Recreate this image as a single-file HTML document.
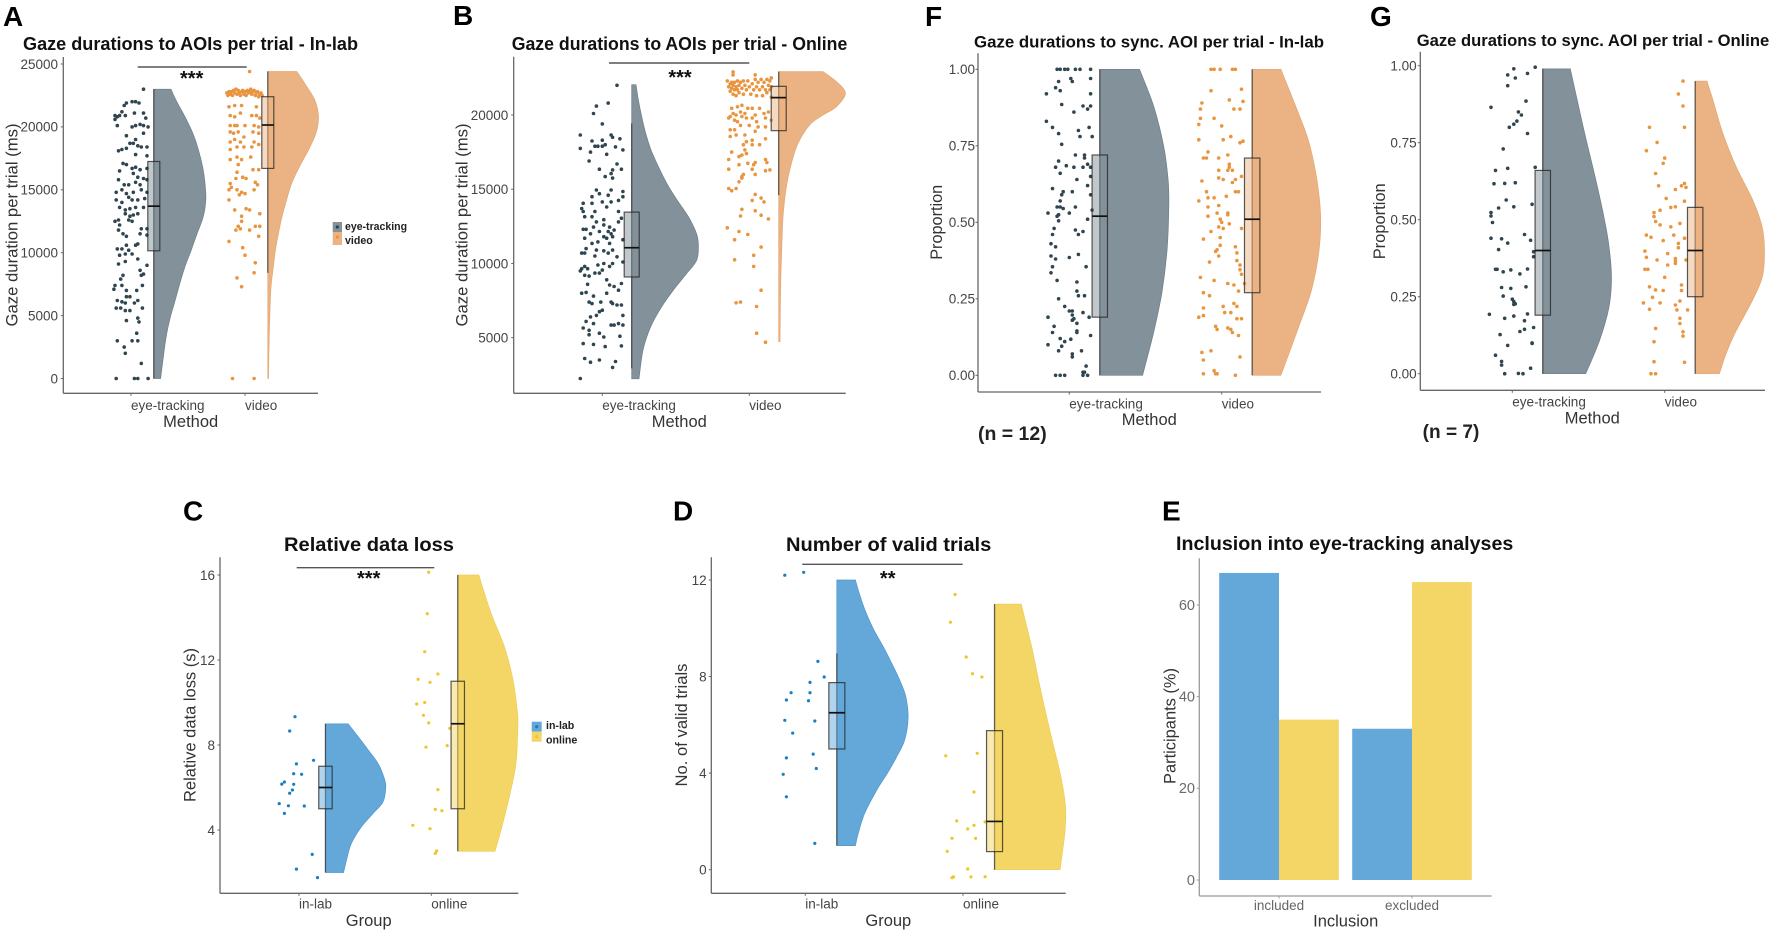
<!DOCTYPE html>
<html lang="en">
<head>
<meta charset="utf-8">
<title>Gaze duration raincloud figure</title>
<style>
html,body{margin:0;padding:0;background:#fff;}
svg{display:block;filter:blur(0.3px);}
text{font-family:"Liberation Sans",sans-serif;}
.letter{font-size:28px;font-weight:700;fill:#000;}
.title{font-weight:700;fill:#111;}
.ytitle,.xtitle{font-size:16.5px;fill:#333;}
.stars{font-size:20px;font-weight:700;fill:#111;text-anchor:middle;}
.legend{font-size:11px;font-weight:700;fill:#222;}
.nlabel{font-size:19px;font-weight:700;fill:#222;}
</style>
</head>
<body>
<svg id="figure" xmlns="http://www.w3.org/2000/svg" width="1772" height="934" viewBox="0 0 1772 934">
<rect width="1772" height="934" fill="#fff"/>

<g id="panel-a">
<text class="letter" x="3" y="26">A</text>
<text class="title" x="23" y="50" font-size="18" textLength="335" lengthAdjust="spacingAndGlyphs">Gaze durations to AOIs per trial - In-lab</text>
<text class="ytitle" transform="translate(17.3 225) rotate(-90)" text-anchor="middle" textLength="203" lengthAdjust="spacingAndGlyphs">Gaze duration per trial (ms)</text>
<text class="xtitle" x="190.7" y="427" text-anchor="middle">Method</text>
<line x1="137.7" x2="246.7" y1="67" y2="67" stroke="#555" stroke-width="1.4"/>
<text class="stars" x="191.7" y="85">***</text>
<rect x="332.7" y="222" width="9.3" height="10" fill="#82919a"/>
<circle cx="337.3" cy="227" r="1.6" fill="#2f4550"/>
<rect x="332.7" y="232" width="9.3" height="13" fill="#ebb383"/>
<circle cx="337.3" cy="237" r="1.6" fill="#e9953f"/>
<text class="legend" x="345" y="230" textLength="62" lengthAdjust="spacingAndGlyphs">eye-tracking</text>
<text class="legend" x="345" y="244" textLength="27.7" lengthAdjust="spacingAndGlyphs">video</text>
</g>

<g id="panel-b">
<text class="letter" x="453" y="25">B</text>
<text class="title" x="511.7" y="50" font-size="18" textLength="335.6" lengthAdjust="spacingAndGlyphs">Gaze durations to AOIs per trial - Online</text>
<text class="ytitle" transform="translate(467.3 225) rotate(-90)" text-anchor="middle" textLength="203" lengthAdjust="spacingAndGlyphs">Gaze duration per trial (ms)</text>
<text class="xtitle" x="679.3" y="427" text-anchor="middle">Method</text>
<line x1="609" x2="749.3" y1="63" y2="63" stroke="#555" stroke-width="1.4"/>
<text class="stars" x="680" y="84">***</text>
</g>

<g id="panel-f">
<text class="letter" x="925" y="26">F</text>
<text class="title" x="974" y="47.7" font-size="17" textLength="350" lengthAdjust="spacingAndGlyphs">Gaze durations to sync. AOI per trial - In-lab</text>
<text class="ytitle" transform="translate(942 222.3) rotate(-90)" text-anchor="middle" textLength="75" lengthAdjust="spacingAndGlyphs">Proportion</text>
<text class="xtitle" x="1149.3" y="425" text-anchor="middle">Method</text>
<text class="nlabel" x="978" y="440" textLength="68.7" lengthAdjust="spacingAndGlyphs">(n = 12)</text>
</g>

<g id="panel-g">
<text class="letter" x="1370" y="26">G</text>
<text class="title" x="1416.7" y="46" font-size="17" textLength="352.6" lengthAdjust="spacingAndGlyphs">Gaze durations to sync. AOI per trial - Online</text>
<text class="ytitle" transform="translate(1385 221.3) rotate(-90)" text-anchor="middle" textLength="76" lengthAdjust="spacingAndGlyphs">Proportion</text>
<text class="xtitle" x="1592.3" y="423.3" text-anchor="middle">Method</text>
<text class="nlabel" x="1422.7" y="438" textLength="56.6" lengthAdjust="spacingAndGlyphs">(n = 7)</text>
</g>

<g id="panel-c">
<text class="letter" x="183" y="520.7">C</text>
<text class="title" x="284" y="551" font-size="19" textLength="170" lengthAdjust="spacingAndGlyphs">Relative data loss</text>
<text class="ytitle" transform="translate(195.7 725) rotate(-90)" text-anchor="middle" textLength="154" lengthAdjust="spacingAndGlyphs">Relative data loss (s)</text>
<text class="xtitle" x="368.7" y="926" text-anchor="middle">Group</text>
<line x1="296.7" x2="434.3" y1="567.7" y2="567.7" stroke="#555" stroke-width="1.4"/>
<text class="stars" x="368.7" y="585">***</text>
<rect x="531.7" y="721.7" width="10" height="10" fill="#64a8da"/>
<circle cx="536.7" cy="726.7" r="1.6" fill="#1a7fc0"/>
<rect x="531.7" y="731.7" width="10" height="10" fill="#f3d665"/>
<circle cx="536.7" cy="736.7" r="1.6" fill="#f0c52a"/>
<text class="legend" x="546" y="729" textLength="28.3" lengthAdjust="spacingAndGlyphs">in-lab</text>
<text class="legend" x="546" y="743.3" textLength="31.3" lengthAdjust="spacingAndGlyphs">online</text>
</g>

<g id="panel-d">
<text class="letter" x="673" y="520.7">D</text>
<text class="title" x="786" y="551" font-size="19" textLength="205.3" lengthAdjust="spacingAndGlyphs">Number of valid trials</text>
<text class="ytitle" transform="translate(687 725) rotate(-90)" text-anchor="middle" textLength="123" lengthAdjust="spacingAndGlyphs">No. of valid trials</text>
<text class="xtitle" x="888.3" y="926" text-anchor="middle">Group</text>
<line x1="802.3" x2="962.7" y1="564.3" y2="564.3" stroke="#555" stroke-width="1.4"/>
<text class="stars" x="887.7" y="585">**</text>
</g>

<g id="panel-e">
<text class="letter" x="1162" y="520.7">E</text>
<text class="title" x="1176" y="550" font-size="19" textLength="337.3" lengthAdjust="spacingAndGlyphs">Inclusion into eye-tracking analyses</text>
<text class="ytitle" transform="translate(1175.3 726) rotate(-90)" text-anchor="middle" textLength="116" lengthAdjust="spacingAndGlyphs">Participants (%)</text>
<text class="xtitle" x="1345.7" y="926.7" text-anchor="middle">Inclusion</text>
</g>
</svg>

<script>
// ---------- Shared categories ----------
const methodCategories = ["eye-tracking", "video"];
const groupCategories = ["in-lab", "online"];

// ---------- Panel A ----------
const aYTicks = ["0", "5000", "10000", "15000", "20000", "25000"];
const aEyeValues = [23000,21900,21700,22000,22000,21900,21200,20900,21100,20900,20800,20900,20600,20100,21100,20700,20100,20000,20200,20100,20000,19300,19000,19500,18700,18700,18500,18400,18400,18100,18200,18300,17700,17800,17100,17000,16700,16800,16600,16700,16500,16300,16000,15900,15800,15400,15400,15600,15400,15800,14800,15000,14700,14800,15000,14800,14200,14000,14400,14200,14200,14300,13600,13400,13500,13600,13600,12500,12600,13100,12900,13000,13100,12200,12500,12600,11900,11900,11800,11500,11300,11500,11400,10300,10300,10600,10200,10600,10700,9800,9900,9900,9500,9100,9300,9000,8600,8300,8200,8200,7900,7400,7100,7400,7000,7400,7000,6500,6500,6200,6100,6000,6000,6200,5600,5600,5400,5400,5600,4600,4800,4500,3000,3000,3600,3000,2500,2000,1200,0,0,0,0];
const aEyeJitter = [.11,-.04,-.06,.01,.04,.07,-.08,-.05,.03,-.14,-.12,-.10,-.14,-.12,.11,.13,.11,.15,.08,.04,.01,-.04,.04,.11,-.01,.02,.06,.09,.14,-.11,-.08,-.04,.14,.04,-.07,-.04,.01,.04,.08,.14,-.10,.02,.06,.11,-.11,-.06,-.02,.04,.08,.14,-.13,-.08,-.04,.02,.09,.14,-.13,-.08,-.02,.01,.06,.12,-.10,-.05,-.01,.04,.11,-.14,-.11,-.05,-.01,.02,.06,-.10,.01,-.02,.09,.14,-.11,-.07,-.04,.08,.14,-.12,-.08,-.04,-.02,.04,.06,-.10,-.05,.01,.06,-.11,-.05,.14,.08,.11,.09,-.07,-.09,-.14,-.15,-.08,-.04,.10,.05,-.04,-.01,-.12,-.08,-.05,.03,.06,-.13,-.09,-.05,-.01,.10,-.04,.06,.07,-.12,.01,.05,.06,-.06,-.05,.09,-.13,.03,.06,.15];
const aEyeDensityAt = [23000,22100,20800,19500,18150,16800,15500,14200,12850,11500,10200,8900,7550,6200,4900,3600,2250,0];
const aEyeDensity = [.33,.43,.60,.75,.86,.94,.985,1,.95,.83,.72,.60,.50,.41,.32,.25,.20,.13];
const aEyeBox = [0,10150,13700,17250,23000];
const aVideoValues = [24400,22700,22500,22800,22600,22800,22500,22900,22700,23000,22600,22900,22700,22500,22800,22900,22600,22800,22500,22900,22700,22800,23000,22600,22800,22900,22500,22700,22800,22400,22600,22700,22500,21600,21700,21700,21600,20900,20800,21100,20900,20900,20700,20100,20100,20100,20100,20100,20000,19600,19500,19600,19600,19500,18800,19000,18800,19200,18800,18600,18200,18400,18400,18400,17400,17600,17400,17600,17000,16400,16600,16600,15900,16000,15900,15500,15600,15400,15200,15000,15000,15000,14800,14700,14600,14200,13400,13500,13400,13100,12900,12500,12100,11800,11900,11800,12100,12100,10900,11300,10400,9800,9200,8400,8000,7300,0,0];
const aVideoJitter = [.04,-.16,-.15,-.14,-.13,-.12,-.11,-.10,-.09,-.08,-.07,-.06,-.05,-.04,-.03,-.02,-.01,0,.01,.02,.03,.04,.05,.06,.07,.08,.09,.10,.11,.12,.13,.14,.15,-.14,-.09,-.03,.10,-.13,-.09,-.04,.06,.10,.13,-.13,-.09,-.07,0,.08,.12,-.13,-.10,-.06,.07,.12,-.13,-.09,-.04,-.01,.08,.12,-.13,-.07,-.01,.06,-.13,-.07,-.03,.05,-.06,-.07,.07,.12,-.08,-.02,.01,-.13,.09,.11,-.12,-.07,.08,-.14,-.03,0,-.05,-.14,-.09,.01,.04,.13,-.03,-.03,-.06,-.08,-.04,.04,.09,.13,-.14,.12,-.02,0,.09,.08,-.07,-.03,-.11,.08];
const aVideoDensityAt = [24400,23450,22100,20800,19500,18150,16800,15500,14200,12850,11500,10200,8900,7550,6200,3600,0];
const aVideoDensity = [.57,.73,.93,1,.95,.80,.62,.47,.37,.28,.21,.15,.11,.07,.05,.03,.013];
const aVideoBox = [8400,16700,20150,22400,24400];

// ---------- Panel B ----------
const bYTicks = ["5000", "10000", "15000", "20000"];
const bEyeValues = [22000,20800,20600,20100,19400,18650,18250,18300,18650,18500,18400,17900,17900,17900,18000,17750,17500,17850,17650,17350,16900,16700,16350,16300,16350,16050,15850,15750,14950,14950,14850,14700,14600,14500,14500,14250,14050,14050,13700,14150,13800,14150,13500,13500,13150,13500,13150,12950,12800,13050,12800,12300,12300,12450,12600,12450,12250,12000,12150,12150,12000,11700,11800,11700,11800,11450,11350,11600,11350,11000,10900,10850,10900,10700,10700,10500,10700,10450,10100,9900,10000,10000,9800,9650,9650,9500,9550,9800,9350,9350,9200,9150,8900,8550,8650,8600,8450,8200,8000,8050,8000,7800,7400,7300,7400,7400,7300,7200,7200,6850,6750,6500,6400,6500,6100,5950,5850,5850,5950,5850,5650,5500,5300,5050,5100,5200,4600,4550,4400,4450,3600,3350,3500,3400,3000,2250];
const bEyeJitter = [.10,.04,-.04,-.06,0,-.15,-.07,0,.06,.07,.12,-.05,-.03,0,.02,-.15,-.08,.09,.14,.03,-.09,.10,-.02,.07,.13,.06,.02,.07,-.04,.06,.14,-.02,.04,-.07,.14,.11,-.13,-.07,-.14,0,.03,.06,-.13,.11,-.12,-.05,-.07,.01,-.04,.13,.11,-.13,-.11,-.06,.01,.05,.08,-.08,-.02,.04,.06,-.12,.01,.03,.07,-.03,.05,.14,-.07,-.11,-.04,.01,.07,-.14,-.12,-.05,.04,.10,.14,-.03,.01,.07,-.12,-.14,-.10,-.15,0,.05,-.05,-.02,-.12,-.09,.03,.05,.13,-.10,.08,.11,-.14,-.11,.03,-.06,-.09,-.07,-.01,.06,.07,.10,.13,0,-.02,.14,-.08,-.04,-.11,-.06,.06,.08,.11,.14,-.13,-.09,-.02,.01,.12,-.09,-.13,-.06,.02,.13,-.12,-.08,-.02,.09,.07,-.15];
const bEyeDensityAt = [22040,21010,19890,18760,17640,16520,15400,14270,13150,12030,11240,10230,9330,8210,7090,5740,4170,2230];
const bEyeDensity = [.065,.10,.15,.21,.29,.40,.525,.68,.85,.97,1,.975,.825,.625,.45,.285,.17,.11];
const bEyeBox = [2930,9090,11060,13460,19440];
const bVideoValues = [22900,22700,22700,22300,21900,22100,21600,22200,21800,22000,21400,22200,21700,21900,21300,22300,21700,22000,21500,22200,21800,22300,21400,22000,21700,22300,21900,21400,22100,21700,22400,21900,21300,22200,21700,22400,21900,21300,22200,21700,22400,21500,22000,22300,21700,22500,21200,21900,20450,20550,20650,20450,19900,20100,20000,20200,20100,20450,20450,20200,19800,19650,19550,19900,19800,19800,19550,20000,19800,19650,20100,19000,19000,19300,19300,19200,19200,18550,18650,18650,18900,18400,18200,18300,18000,18000,18000,17650,17500,17300,17200,17400,17000,17000,16800,16800,16750,16650,16650,16350,16300,16250,16350,16000,15850,16000,15750,15500,15050,15050,14900,14650,14250,14400,14150,13650,13550,13200,13250,13000,12400,12150,11950,11600,11100,10550,10250,9800,8200,7350,7400,7100,5300,4700];
const bVideoJitter = [-.11,-.11,.04,-.15,-.14,-.13,-.13,-.12,-.12,-.11,-.11,-.10,-.10,-.09,-.09,-.08,-.08,-.07,-.07,-.06,-.05,-.04,-.04,-.03,-.02,-.01,0,.01,.02,.03,.04,.05,.05,.06,.07,.08,.09,.09,.10,.11,.12,.12,.13,.14,.14,.15,.15,.15,-.12,-.08,-.05,-.01,-.13,-.11,-.09,-.06,-.03,.02,.07,.13,-.14,-.10,-.08,-.05,-.02,.02,.05,.04,.11,.15,.10,-.10,-.13,-.06,0,.06,.11,-.13,-.09,-.03,.04,.11,-.02,.02,-.04,.02,.07,-.03,-.12,-.05,-.07,-.02,-.14,.11,.12,.04,-.01,.03,-.07,-.14,.14,.11,.02,-.04,-.05,.04,-.05,-.07,-.09,-.14,-.12,.04,.02,.08,.10,-.05,.04,-.06,.08,.13,-.15,-.07,-.01,-.10,.08,.03,-.10,.03,.08,-.09,-.06,.05,.05,.11];
const bVideoDensityAt = [22920,22250,21460,20560,20000,19330,18090,16740,15170,13150,10900,8660,4730];
const bVideoDensity = [.665,.865,1,.865,.665,.465,.29,.19,.115,.065,.045,.03,.02];
const bVideoBox = [14600,18945,21170,21930,22920];

// ---------- Panel F ----------
const fYTicks = ["0.00", "0.25", "0.50", "0.75", "1.00"];
const fEyeValues = [1,1,1,1,1,1,1,.97,.96,.96,.97,.94,.93,.92,.92,.885,.88,.87,.88,.86,.83,.81,.81,.80,.79,.78,.78,.755,.72,.72,.70,.68,.71,.685,.68,.68,.69,.68,.66,.65,.64,.62,.61,.60,.60,.59,.57,.59,.55,.55,.545,.55,.54,.53,.53,.52,.525,.51,.505,.48,.475,.47,.46,.46,.43,.42,.395,.385,.39,.38,.355,.355,.335,.31,.305,.275,.26,.26,.25,.225,.21,.21,.205,.19,.197,.185,.19,.18,.17,.16,.14,.145,.14,.13,.10,.12,.118,.11,.095,.08,.08,.07,.06,.03,.01,0,0,0,.01,0,0];
const fEyeJitter = [-.08,-.06,-.03,-.01,.04,.07,.14,.01,.02,-.07,.14,-.09,-.06,.14,-.15,-.05,.09,.12,.14,.03,-.15,-.11,.13,.06,-.07,.07,.15,-.05,.04,.10,-.07,-.09,.10,-.02,.03,.09,.12,.14,-.06,.14,.05,.12,-.11,-.04,.02,.14,-.06,-.05,-.08,-.06,-.04,.04,.15,0,-.14,-.08,-.07,.12,-.07,-.10,.04,.09,.06,-.11,-.12,-.09,.06,0,-.12,-.09,.11,-.11,-.12,-.08,.05,.05,.06,.10,-.07,-.03,0,.02,.09,-.14,.02,.03,.13,.02,.05,-.10,-.11,.05,.05,.14,-.14,-.06,.01,-.03,-.05,-.07,.08,.02,.02,.11,.09,-.09,-.06,-.03,.10,.09,.12];
const fEyeDensityAt = [1,.88,.75,.64,.55,.41,.27,.14,0];
const fEyeDensity = [.575,.78,.925,.99,1,.975,.90,.78,.62];
const fEyeBox = [0,.19,.52,.72,1];
const fVideoValues = [1,1,1,1,1,.935,.93,.90,.895,.89,.87,.87,.87,.84,.84,.82,.815,.78,.77,.77,.76,.765,.73,.71,.71,.71,.72,.69,.65,.67,.67,.67,.68,.645,.64,.63,.64,.635,.60,.60,.60,.57,.58,.58,.585,.55,.555,.53,.53,.52,.525,.51,.50,.495,.485,.48,.48,.47,.445,.45,.425,.42,.41,.405,.40,.39,.375,.37,.36,.345,.32,.33,.31,.30,.295,.30,.275,.27,.26,.235,.225,.225,.22,.205,.205,.19,.195,.185,.185,.16,.15,.155,.15,.14,.13,.08,.075,.05,.06,.015,.005,.005,.005,0];
const fVideoJitter = [-.07,-.05,-.01,.07,.09,.13,-.07,.05,.14,-.13,-.14,.12,.08,-.14,-.05,-.15,0,.06,.01,-.15,.12,.14,-.09,-.12,-.10,-.02,.04,.05,.13,-.02,.04,.07,.05,-.02,.01,.07,.09,-.13,-.10,.09,.11,-.15,-.09,-.05,.03,-.09,-.02,-.03,.04,-.09,.04,-.01,0,.05,-.02,.01,.13,-.07,-.12,-.01,-.01,.09,-.03,-.04,.10,-.02,.10,-.08,.12,.12,-.14,.13,-.05,.04,.08,.15,.11,-.12,-.08,.08,.10,.01,-.12,.02,.06,-.15,-.12,.10,.13,-.04,-.03,.04,.06,.07,.11,-.07,-.13,-.12,.12,-.05,-.04,-.03,-.12,.09];
const fVideoDensityAt = [1,.889,.77,.65,.53,.41,.28,.17,0];
const fVideoDensity = [.42,.62,.82,.94,1,.98,.87,.70,.42];
const fVideoBox = [0,.27,.51,.71,1];

// ---------- Panel G ----------
const gYTicks = ["0.00", "0.25", "0.50", "0.75", "1.00"];
const gEyeValues = [.995,.99,.975,.97,.96,.935,.885,.865,.85,.84,.82,.81,.80,.78,.73,.67,.66,.667,.617,.618,.62,.564,.55,.542,.538,.523,.512,.491,.452,.44,.438,.433,.424,.403,.396,.38,.34,.339,.339,.331,.337,.324,.28,.277,.282,.252,.242,.234,.227,.225,.193,.194,.187,.18,.172,.15,.144,.137,.127,.10,.098,.092,.06,.04,.028,.018,.001,0,0];
const gEyeJitter = [.15,.01,.10,-.03,.02,-.03,.09,-.14,.04,.06,.03,.01,-.02,.10,-.06,.15,-.11,-.03,-.12,-.05,.02,-.04,.13,.01,-.09,-.14,-.14,-.13,.08,-.14,-.07,.12,-.03,-.09,.14,.14,.10,-.11,-.10,-.06,-.01,.05,-.07,-.01,.09,-.06,0,.01,.02,.01,-.15,.10,.01,-.05,.08,.14,.08,.05,-.08,.13,.13,-.03,-.11,-.07,-.07,.12,.04,.07,-.05];
const gEyeDensityAt = [.99,.89,.78,.65,.52,.42,.315,.218,.11,0];
const gEyeDensity = [.40,.50,.61,.75,.88,.96,1,.965,.83,.625];
const gEyeBox = [0,.19,.40,.66,.99];
const gVideoValues = [.95,.908,.869,.80,.80,.751,.724,.70,.683,.65,.61,.618,.61,.605,.598,.569,.56,.54,.542,.531,.523,.51,.494,.483,.488,.477,.45,.45,.443,.44,.432,.423,.409,.398,.39,.378,.374,.366,.369,.369,.353,.358,.339,.339,.313,.288,.282,.27,.272,.27,.248,.236,.23,.23,.223,.207,.209,.207,.18,.163,.147,.136,.122,.104,.037,.039,0,0];
const gVideoJitter = [.12,.09,.12,-.10,.13,-.05,-.12,0,-.01,-.06,-.04,.13,.11,.14,.07,.01,.13,.04,.07,-.03,-.07,-.07,-.06,-.03,.10,.04,.06,-.12,-.09,.13,-.01,.09,.09,-.13,.02,-.12,.07,.07,-.05,.14,.02,.07,-.13,-.11,0,.11,-.10,.11,-.06,-.01,-.08,.10,-.14,-.03,.07,.08,-.10,.15,.10,.10,-.06,.12,.12,-.07,.13,-.07,-.09,-.06];
const gVideoDensityAt = [.95,.889,.78,.672,.564,.477,.40,.315,.24,.13,.066,0];
const gVideoDensity = [.17,.255,.40,.59,.83,.966,1,.97,.83,.57,.447,.35];
const gVideoBox = [0,.25,.40,.54,.95];

// ---------- Panel C ----------
const cYTicks = ["4", "8", "12", "16"];
const cLabValues = [9.33,8.66,7.28,7.11,6.65,6.62,6.26,6.16,6.15,5.88,5.73,5.24,5.14,5.13,4.78,2.85,2.16,1.76];
const cLabJitter = [-.03,-.07,.11,-.02,-.04,.02,-.11,-.13,-.04,-.05,-.07,-.15,-.08,.04,-.11,.10,-.02,.14];
const cLabDensityAt = [9,8.4,7.76,7.14,6.5,6.04,5.33,4.78,4.16,3.37,2.6,2];
const cLabDensity = [.376,.54,.71,.87,.967,1,.956,.79,.60,.43,.35,.30];
const cLabBox = [2,5,6,7,9];
const cOnlineValues = [16.13,14.18,12.39,11.34,11.09,10.95,10.0,9.93,9.4,9.04,8.78,7.97,7.9,5.9,4.97,4.91,4.22,4.06,3.01,2.9];
const cOnlineJitter = [-.02,-.03,-.05,.05,-.10,-.01,-.05,-.11,-.06,-.02,.14,.12,-.04,.05,.03,.08,-.14,-.01,.04,.03];
const cOnlineDensityAt = [16,14.2,12.6,11.06,9.5,8.8,7.14,5.57,4,3];
const cOnlineDensity = [.35,.555,.78,.92,.995,1,.97,.86,.72,.62];
const cOnlineBox = [3,5,9,11,16];

// ---------- Panel D ----------
const dYTicks = ["0", "4", "8", "12"];
const dLabValues = [12.2,12.32,8.63,7.98,7.76,7.33,7.33,7.03,7.0,6.19,6.16,5.66,4.79,4.63,4.19,3.95,3.02,1.09];
const dLabJitter = [-.13,-.01,.08,.12,.03,-.09,.03,-.12,.02,-.13,.06,-.08,.05,-.12,.07,-.14,-.12,.06];
const dLabDensityAt = [12,11.3,10.6,9.93,9.24,8.55,7.86,7.17,6.27,5.37,4.68,4,3.3,2.33,1.5,1];
const dLabDensity = [.26,.33,.416,.52,.65,.77,.88,.967,1,.95,.84,.71,.56,.39,.30,.26];
const dLabBox = [1,5,6.5,7.75,8.96];
const dOnlineValues = [11.4,10.25,8.81,8.12,7.98,4.72,4.82,3.22,1.98,2.02,1.84,1.69,1.3,1.3,.76,.03,-.33,-.3,-.3,-.29];
const dOnlineJitter = [-.05,-.08,.02,.06,.12,-.11,.09,.07,.14,-.04,.07,.03,-.07,.08,-.10,.03,-.07,-.06,.05,.14];
const dOnlineDensityAt = [11,9.24,7.86,6.48,5.1,4,3.02,2.33,1.5,.68,0];
const dOnlineDensity = [.374,.52,.617,.72,.83,.92,.98,1,.985,.95,.92];
const dOnlineBox = [0,.75,2,5.76,11];

// ---------- Panel E ----------
const eCategories = ["included", "excluded"];
const eYTicks = ["0", "20", "40", "60"];
const eInLab = [67, 33];
const eOnline = [35, 65];

// ---------- Drawing ----------
const NS = "http://www.w3.org/2000/svg";
const GREY = "#82919a", ORANGE = "#ebb383", BLUE = "#64a8da", YELLOW = "#f3d665";
const DOT_DARK = "#2f4550", DOT_ORANGE = "#e9953f", DOT_BLUE = "#1a7fc0", DOT_YELLOW = "#f0c52a";

function make(parent, tag, attrs, txt) {
  const el = document.createElementNS(NS, tag);
  for (const k in attrs) el.setAttribute(k, attrs[k]);
  if (txt !== undefined) el.textContent = txt;
  parent.appendChild(el);
  return el;
}

function linearScale(v0, p0, v1, p1) {
  return function (v) { return p0 + (v - v0) * (p1 - p0) / (v1 - v0); };
}

function smoothPath(pts) {
  let d = "";
  for (let i = 0; i < pts.length - 1; i++) {
    const p0 = pts[Math.max(i - 1, 0)], p1 = pts[i], p2 = pts[i + 1], p3 = pts[Math.min(i + 2, pts.length - 1)];
    const c1x = p1[0] + (p2[0] - p0[0]) / 6, c1y = p1[1] + (p2[1] - p0[1]) / 6;
    const c2x = p2[0] - (p3[0] - p1[0]) / 6, c2y = p2[1] - (p3[1] - p1[1]) / 6;
    d += " C" + c1x.toFixed(1) + " " + c1y.toFixed(1) + " " + c2x.toFixed(1) + " " + c2y.toFixed(1) + " " + p2[0].toFixed(1) + " " + p2[1].toFixed(1);
  }
  return d;
}

function drawAxes(g, cfg, y) {
  const tickColor = cfg.tickColor || "#444";
  const axisColor = cfg.axisColor || "#666";
  const yAxis = make(g, "line", {x1: cfg.left, x2: cfg.left, y1: cfg.top, y2: cfg.bottom, stroke: axisColor, "stroke-width": 1.3});
  
  
  const xAxis = make(g, "line", {x1: cfg.left, x2: cfg.right, y1: cfg.bottom, y2: cfg.bottom, stroke: axisColor, "stroke-width": 1.3});
  
  
  cfg.yTicks.forEach(function (label) {
    const py = y(Number(label));
    const mark = make(g, "line", {x1: cfg.left - 2.5, x2: cfg.left, y1: py, y2: py, stroke: axisColor, "stroke-width": 1});
    
    
    const t = make(g, "text", {x: cfg.tickRight, y: py + 4.8, "text-anchor": "end", "font-size": cfg.tickSize || 13.5, fill: tickColor}, label);
    
    
  });
}

function drawSeries(g, cfg, s, i, y) {
  const spacing = cfg.catX[1] - cfg.catX[0];
  const cat = cfg.catX[i];
  const base = cat + spacing * 0.2;

  const edge = s.densityAt.map(function (v, k) { return [base + s.density[k] * s.peak, y(v)]; });
  let d = "M" + base.toFixed(1) + " " + edge[0][1].toFixed(1) + " L" + edge[0][0].toFixed(1) + " " + edge[0][1].toFixed(1);
  d += smoothPath(edge);
  d += " L" + base.toFixed(1) + " " + edge[edge.length - 1][1].toFixed(1) + " Z";
  const violin = make(g, "path", {d: d, fill: s.color, stroke: s.edge, "stroke-width": 0.7});
  
  

  const n = Math.min(s.values.length, s.jitter.length);
  for (let k = 0; k < n; k++) {
    const dot = make(g, "circle", {cx: (cat + s.jitter[k] * spacing).toFixed(1), cy: y(s.values[k]).toFixed(1), r: cfg.dotR || 1.8, fill: s.dot});
    
    
  }

  const stats = s.box;
  const whisker = make(g, "line", {x1: base, x2: base, y1: y(stats[0]), y2: y(stats[4]), stroke: "#333", "stroke-opacity": 0.75, "stroke-width": 1.3});
  
  
  const hw = cfg.boxHalf;
  const box = make(g, "rect", {x: base - hw, y: y(stats[3]), width: 2 * hw, height: y(stats[1]) - y(stats[3]), fill: s.color, "fill-opacity": 0.5, stroke: "#222", "stroke-opacity": 0.75, "stroke-width": 1.2});
  
  
  const median = make(g, "line", {x1: base - hw, x2: base + hw, y1: y(stats[2]), y2: y(stats[2]), stroke: "#111", "stroke-width": 1.7});
  
  

  const tick = make(g, "line", {x1: cat, x2: cat, y1: cfg.bottom, y2: cfg.bottom + 2.5, stroke: "#666", "stroke-width": 1});
  
  
  const label = make(g, "text", {x: cat, y: cfg.labelY, "font-size": 13.5, fill: "#444"}, cfg.categories[i]);
  
  
}

function drawRaincloud(cfg) {
  const g = document.getElementById(cfg.id);
  const y = linearScale(cfg.yRef[0], cfg.yRef[1], cfg.yRef[2], cfg.yRef[3]);
  drawAxes(g, cfg, y);
  cfg.series.forEach(function (s, i) { drawSeries(g, cfg, s, i, y); });
}

function eyeSeries(values, jitter, densityAt, density, box, peak) {
  return {name: "eye-tracking", color: GREY, edge: "#6f7f88", dot: DOT_DARK, values: values, jitter: jitter, densityAt: densityAt, density: density, box: box, peak: peak};
}
function videoSeries(values, jitter, densityAt, density, box, peak) {
  return {name: "video", color: ORANGE, edge: "#e3a873", dot: DOT_ORANGE, values: values, jitter: jitter, densityAt: densityAt, density: density, box: box, peak: peak};
}
function labSeries(values, jitter, densityAt, density, box, peak) {
  return {name: "in-lab", color: BLUE, edge: "#4f97cd", dot: DOT_BLUE, values: values, jitter: jitter, densityAt: densityAt, density: density, box: box, peak: peak};
}
function onlineSeries(values, jitter, densityAt, density, box, peak) {
  return {name: "online", color: YELLOW, edge: "#ecce5a", dot: DOT_YELLOW, values: values, jitter: jitter, densityAt: densityAt, density: density, box: box, peak: peak};
}

drawRaincloud({id: "panel-a", left: 63.3, right: 318, top: 57, bottom: 393.3, tickRight: 58, labelY: 410, boxHalf: 6,
  yRef: [0, 378.5, 25000, 64], yTicks: aYTicks, catX: [131, 245], categories: methodCategories,
  series: [eyeSeries(aEyeValues, aEyeJitter, aEyeDensityAt, aEyeDensity, aEyeBox, 52), videoSeries(aVideoValues, aVideoJitter, aVideoDensityAt, aVideoDensity, aVideoBox, 50.7)]});

drawRaincloud({id: "panel-b", left: 513.7, right: 845.7, top: 56.7, bottom: 393.3, tickRight: 508.3, labelY: 410, boxHalf: 7.5,
  yRef: [5000, 337.7, 20000, 115], yTicks: bYTicks, catX: [602.3, 749.3], categories: methodCategories,
  series: [eyeSeries(bEyeValues, bEyeJitter, bEyeDensityAt, bEyeDensity, bEyeBox, 66.7), videoSeries(bVideoValues, bVideoJitter, bVideoDensityAt, bVideoDensity, bVideoBox, 66.7)]});

drawRaincloud({id: "panel-f", left: 978, right: 1321, top: 53.3, bottom: 392, tickRight: 975, labelY: 408.5, boxHalf: 7.7,
  yRef: [0, 375.3, 1, 69.3], yTicks: fYTicks, catX: [1069.3, 1221.7], categories: methodCategories,
  series: [eyeSeries(fEyeValues, fEyeJitter, fEyeDensityAt, fEyeDensity, fEyeBox, 69), videoSeries(fVideoValues, fVideoJitter, fVideoDensityAt, fVideoDensity, fVideoBox, 68.3)]});

drawRaincloud({id: "panel-g", left: 1420.3, right: 1765, top: 51.7, bottom: 390.3, tickRight: 1416.7, labelY: 406.7, boxHalf: 7.7,
  yRef: [0, 373.7, 1, 65.7], yTicks: gYTicks, catX: [1512.3, 1664.7], categories: methodCategories,
  series: [eyeSeries(gEyeValues, gEyeJitter, gEyeDensityAt, gEyeDensity, gEyeBox, 68.7), videoSeries(gVideoValues, gVideoJitter, gVideoDensityAt, gVideoDensity, gVideoBox, 69.3)]});

drawRaincloud({id: "panel-c", left: 220, right: 518.3, top: 557.3, bottom: 893.3, tickRight: 215, labelY: 908.3, boxHalf: 6.7, dotR: 1.6,
  yRef: [4, 830, 16, 575], yTicks: cYTicks, catX: [299, 431.3], categories: groupCategories,
  series: [labSeries(cLabValues, cLabJitter, cLabDensityAt, cLabDensity, cLabBox, 60.3), onlineSeries(cOnlineValues, cOnlineJitter, cOnlineDensityAt, cOnlineDensity, cOnlineBox, 60)]});

drawRaincloud({id: "panel-d", left: 711.3, right: 1065.7, top: 557.3, bottom: 893.3, tickRight: 706.7, labelY: 908.3, boxHalf: 8, dotR: 1.6,
  yRef: [0, 869.7, 12, 580], yTicks: dYTicks, catX: [805.3, 963], categories: groupCategories,
  series: [labSeries(dLabValues, dLabJitter, dLabDensityAt, dLabDensity, dLabBox, 71.3), onlineSeries(dOnlineValues, dOnlineJitter, dOnlineDensityAt, dOnlineDensity, dOnlineBox, 71.3)]});

(function drawBars() {
  const g = document.getElementById("panel-e");
  const cfg = {left: 1199.3, right: 1491.7, top: 558.3, bottom: 896, tickRight: 1195, yTicks: eYTicks, tickColor: "#6a6a6a", axisColor: "#9a9a9a", tickSize: 14.5};
  const y = linearScale(0, 880, 60, 605);
  const xCat = linearScale(0, 1279, 1, 1412);
  const barW = 59.8;
  drawAxes(g, cfg, y);
  eCategories.forEach(function (cat, i) {
    const cx = xCat(i);
    const lab = make(g, "rect", {x: cx - barW, y: y(eInLab[i]), width: barW, height: y(0) - y(eInLab[i]), fill: BLUE});
    
    
    const onl = make(g, "rect", {x: cx, y: y(eOnline[i]), width: barW, height: y(0) - y(eOnline[i]), fill: YELLOW});
    
    
    const tick = make(g, "line", {x1: cx, x2: cx, y1: cfg.bottom, y2: cfg.bottom + 2.5, stroke: "#9a9a9a", "stroke-width": 1});
    
    
    const label = make(g, "text", {x: cx, y: 910, "text-anchor": "middle", "font-size": 13.5, fill: "#666"}, cat);
    
    
  });
})();
</script>
</body>
</html>
